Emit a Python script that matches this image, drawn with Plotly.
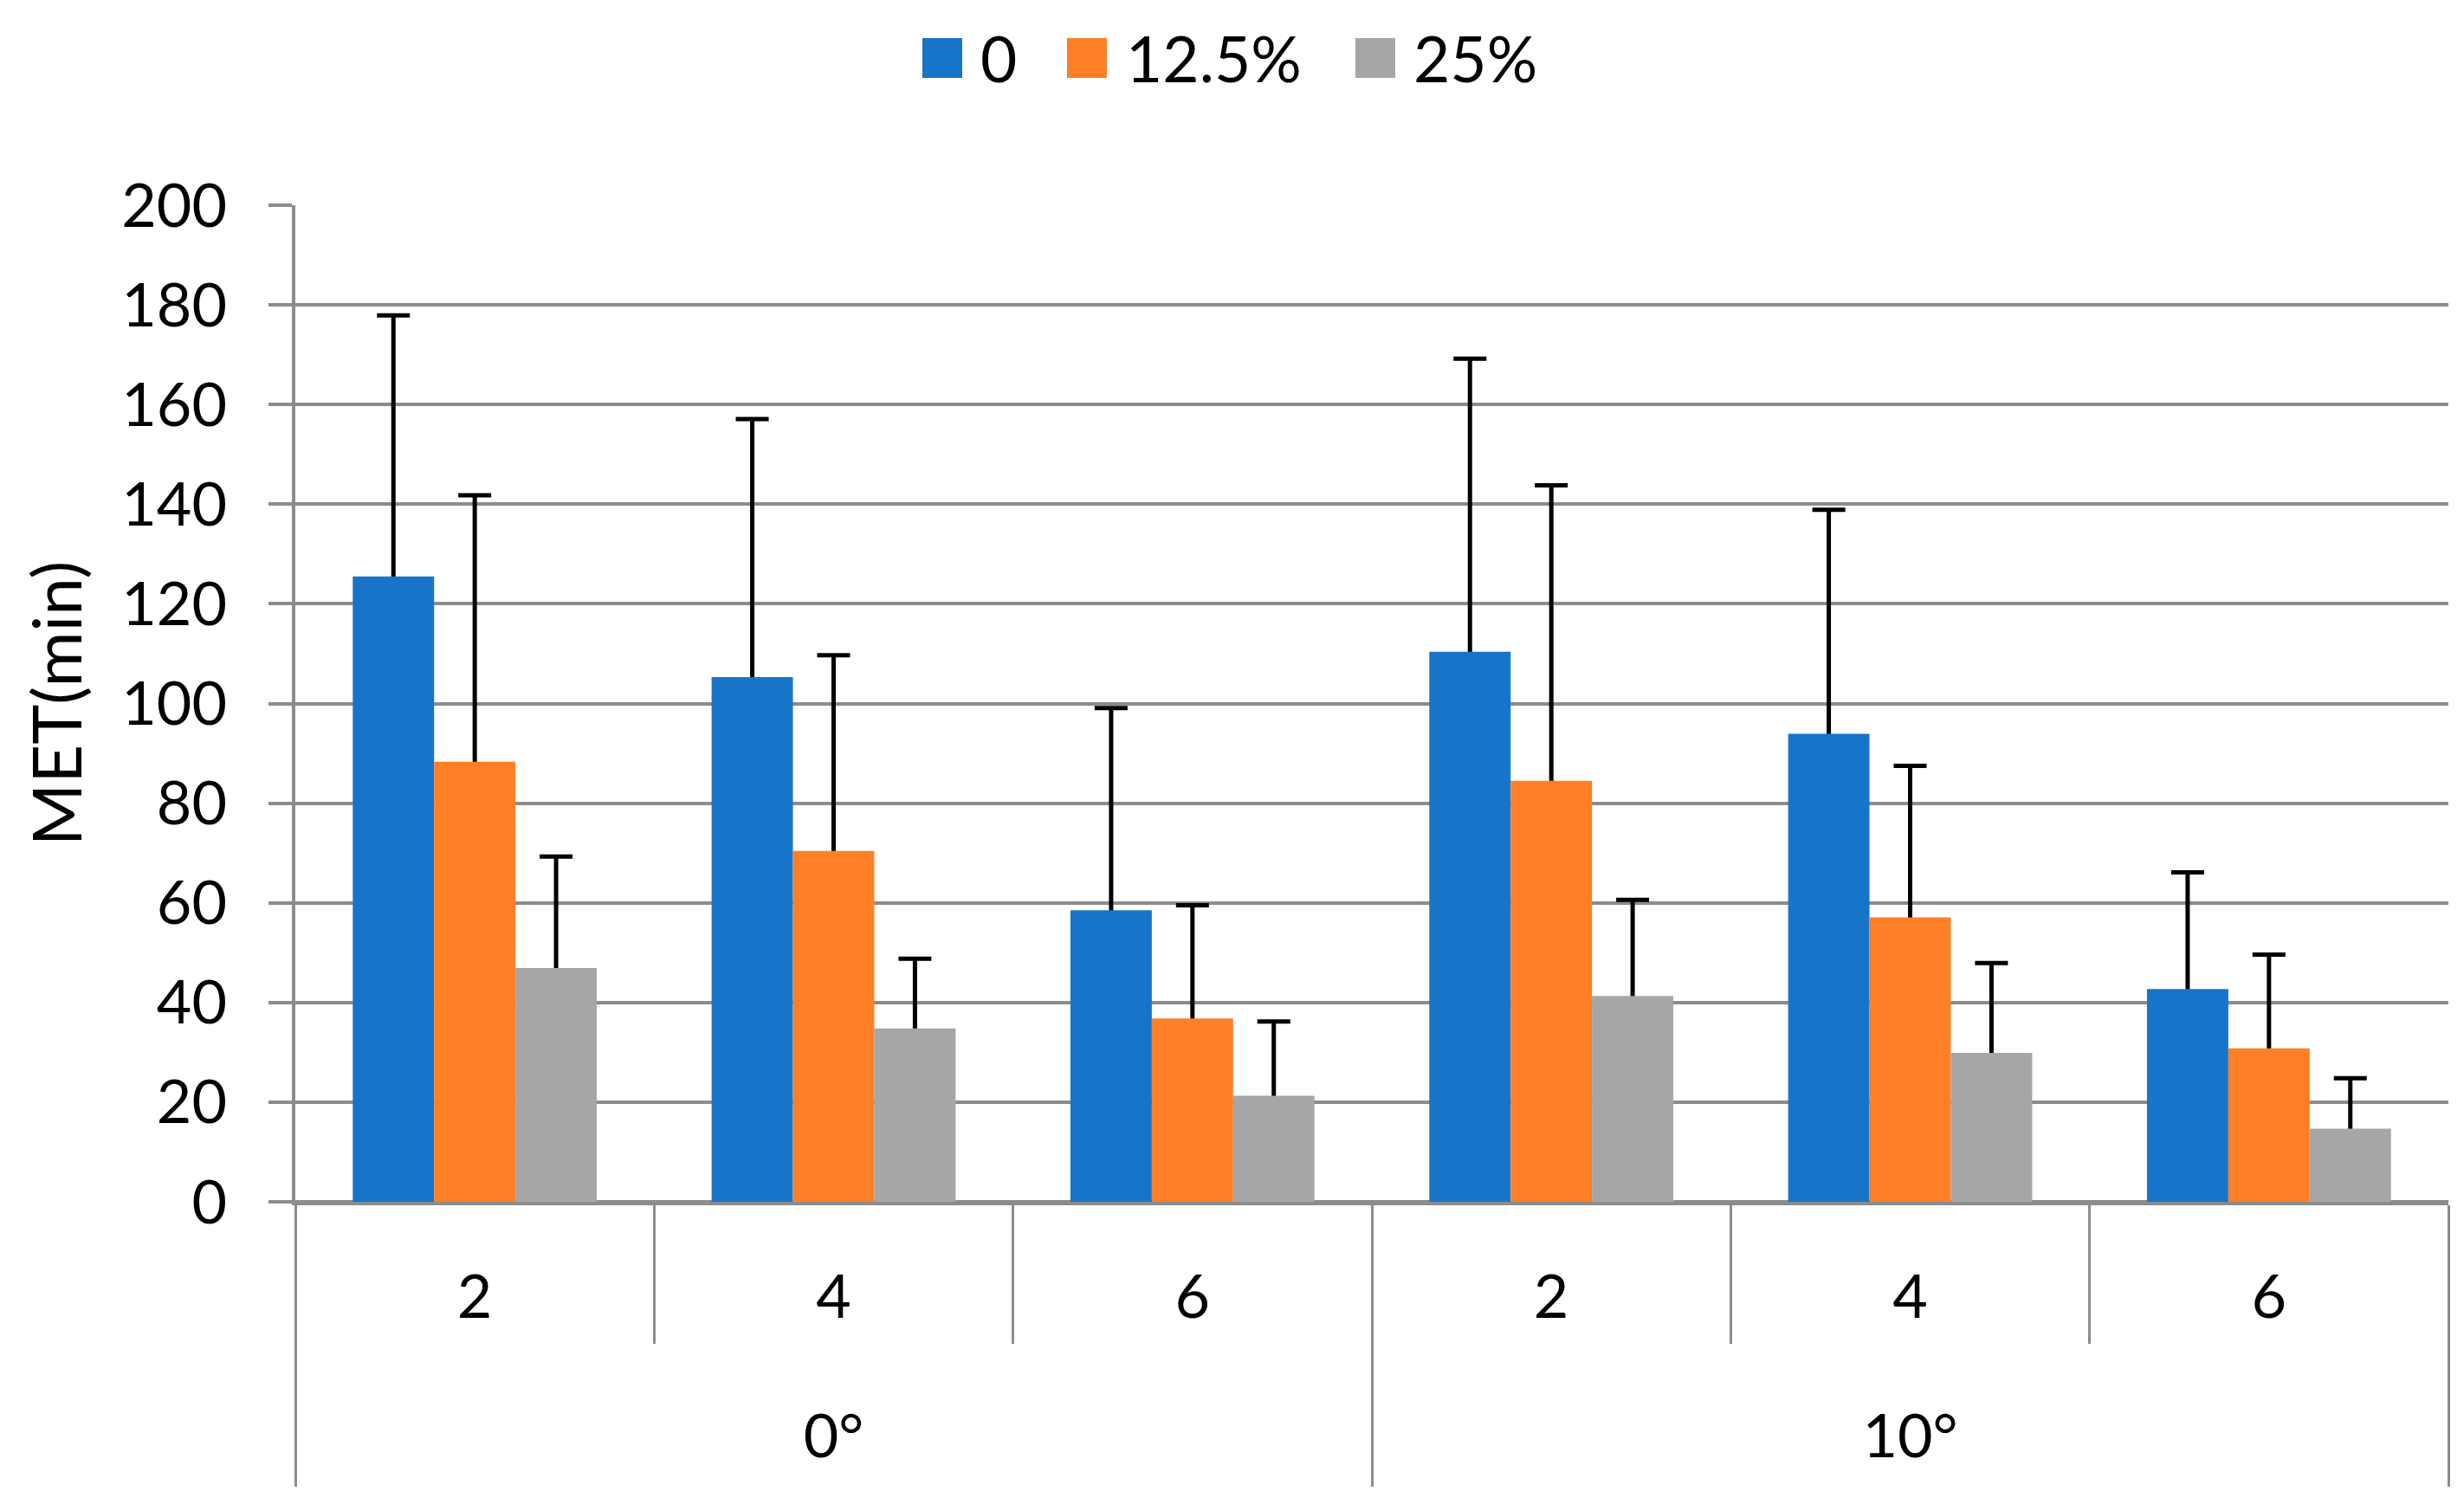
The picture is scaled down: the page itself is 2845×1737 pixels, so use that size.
import plotly.graph_objects as go

# ---- data ----
angles = ["0°", "0°", "0°", "10°", "10°", "10°"]
levels = ["2", "4", "6", "2", "4", "6"]
series_names = ["0", "12.5%", "25%"]
met_0 = [125.5, 105.3, 58.5, 110.4, 93.9, 42.7]
met_125 = [88.3, 70.4, 36.8, 84.5, 57.1, 30.8]
met_25 = [46.9, 34.8, 21.3, 41.3, 29.9, 14.7]
top_0 = [177.9, 157.1, 99.1, 169.2, 138.9, 66.1]
top_125 = [141.8, 109.7, 59.5, 143.8, 87.5, 49.6]
top_25 = [69.3, 48.8, 36.2, 60.6, 47.9, 24.8]
y_ticks = [0, 20, 40, 60, 80, 100, 120, 140, 160, 180, 200]

colors = ["#1874C9", "#FF7F27", "#A6A6A6"]
grid_col = "#8C8C8C"
FONT = "Lato"

W, H = 2845, 1737
ML, MR, MT, MB = 341, 18, 237, 349
PW, PH = W - ML - MR, H - MT - MB


def px_x(px):
    return (px - ML) / PW


def px_y(py):
    return (H - MB - py) / PH


# spacing helpers for the two-level category axis (invisible padding)
def pad_inner(t):
    s = "<span style='font-size:95px'>\u00a0</span>"
    return s + t + s


def pad_outer(t):
    s = "<span style='font-size:150px'>\u00a0</span>"
    return "<br>" + s + t + s


values = [met_0, met_125, met_25]
tops = [top_0, top_125, top_25]
xcat = [[pad_outer(a) for a in angles], [pad_inner(l) for l in levels]]

fig = go.Figure()

# error-bar carriers (transparent bars, drawn underneath)
for i, (name, v, t) in enumerate(zip(series_names, values, tops)):
    fig.add_trace(go.Bar(
        x=xcat, y=v, name=name, offsetgroup=str(i), showlegend=False,
        marker=dict(color="rgba(0,0,0,0)", line=dict(width=0)),
        error_y=dict(type="data", symmetric=False,
                     array=[tt - vv for tt, vv in zip(t, v)],
                     arrayminus=v, color="black", thickness=5, width=19),
        hoverinfo="skip",
    ))

# visible bars
for i, (name, v) in enumerate(zip(series_names, values)):
    fig.add_trace(go.Bar(
        x=xcat, y=v, name=name, offsetgroup=str(i), showlegend=False,
        marker=dict(color=colors[i], line=dict(width=0)),
    ))

# custom legend (large swatches like the original)
sw_left = [1065, 1232, 1565]
txt_left = [1130, 1298, 1630]
sw_size = 46
leg_cy = 67
for i, name in enumerate(series_names):
    fig.add_shape(type="rect", xref="paper", yref="paper",
                  x0=px_x(sw_left[i]), x1=px_x(sw_left[i] + sw_size),
                  y0=px_y(leg_cy + sw_size / 2), y1=px_y(leg_cy - sw_size / 2),
                  fillcolor=colors[i], line=dict(width=0))
    fig.add_annotation(xref="paper", yref="paper", x=px_x(txt_left[i]), y=px_y(leg_cy),
                       text=name, showarrow=False, xanchor="left", yanchor="middle",
                       font=dict(family=FONT, size=73, color="black"))

fig.update_layout(
    width=W, height=H, autosize=False,
    margin=dict(l=ML, r=MR, t=MT, b=MB, pad=0),
    paper_bgcolor="white", plot_bgcolor="white",
    barmode="group", bargap=0.32, bargroupgap=0,
    font=dict(family=FONT, size=68, color="black"),
    showlegend=False,
)

fig.update_xaxes(
    type="multicategory",
    showline=True, linecolor=grid_col, linewidth=4,
    ticks="outside", tickson="boundaries", ticklen=160, tickwidth=3, tickcolor=grid_col,
    showdividers=True, dividercolor=grid_col, dividerwidth=3,
    ticklabelstandoff=46,
    tickfont=dict(family=FONT, size=70, color="black"),
    showgrid=False, zeroline=False,
)

fig.update_yaxes(
    range=[0, 200], tickvals=y_ticks,
    showgrid=True, gridcolor=grid_col, gridwidth=4,
    zeroline=True, zerolinecolor=grid_col, zerolinewidth=4,
    showline=True, linecolor=grid_col, linewidth=4,
    ticks="outside", ticklen=27, tickwidth=4, tickcolor=grid_col,
    ticklabelstandoff=34,
    tickfont=dict(family=FONT, size=70, color="black"),
    title=dict(text="MET(min)", standoff=21, font=dict(family=FONT, size=78, color="black")),
)

fig.write_html("out.html", config={"displayModeBar": False},
               post_script="document.body.style.margin='0';")
